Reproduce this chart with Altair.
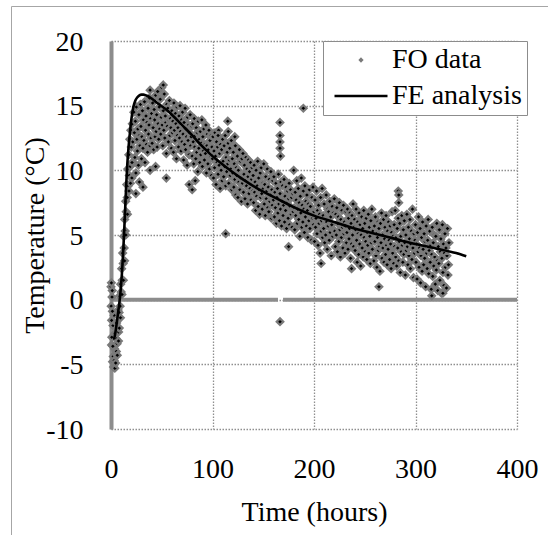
import altair as alt
import pandas as pd
import numpy as np

FONT = "'Liberation Serif', 'Times New Roman', 'DejaVu Serif', serif"
FS = 28
FO_NAME = "FO data"
FE_NAME = "FE analysis"

# FO readings, sampled every 0.5 h, split in 20-hour blocks
fo_step = 0.5
fo_T_000 = [1.0, -3.5, 0.2, -4.8, -2.0, -5.2, -1.2, -3.8, -2.6, -4.2,
            -3.0, -1.8, -3.4, -2.2, -0.8, -2.5, -1.0, 0.3, -0.5, 1.2,
            0.6, 2.4, 1.5, 3.6, 2.8, 4.9, 4.0, 6.2, 5.3, 7.6,
            6.8, 8.9, 7.9, 10.1, 8.8, 11.2, 9.6, 12.4, 10.3, 13.1]
fo_T_020 = [11.8, 9.4, 13.6, 12.2, 10.6, 14.5, 12.9, 11.0, 13.8, 9.8,
            14.9, 12.4, 11.5, 13.2, 10.4, 14.3, 12.7, 11.9, 15.1, 13.4,
            10.9, 12.6, 14.6, 11.7, 13.9, 12.3, 15.3, 10.6, 13.1, 14.2,
            12.0, 13.7, 11.4, 14.8, 12.8, 13.5, 15.6, 11.9, 14.0, 12.5]
fo_T_040 = [14.4, 12.1, 15.2, 13.3, 11.6, 14.7, 13.9, 12.6, 15.8, 13.0,
            14.3, 11.8, 16.1, 13.6, 12.4, 14.9, 13.2, 15.5, 12.8, 14.1,
            16.4, 13.5, 11.9, 14.6, 13.1, 15.9, 12.5, 14.2, 13.7, 11.3,
            15.1, 13.4, 14.8, 12.2, 13.9, 15.4, 12.7, 14.0, 13.3, 11.7]
fo_T_060 = [14.6, 12.9, 13.8, 11.4, 15.2, 13.1, 12.3, 14.4, 13.6, 10.9,
            14.9, 12.7, 13.3, 11.8, 14.2, 12.5, 15.0, 13.0, 11.5, 13.9,
            12.2, 14.5, 12.8, 10.8, 13.7, 12.0, 14.8, 11.6, 13.2, 12.6,
            10.4, 14.1, 12.3, 13.5, 11.2, 12.9, 14.3, 11.9, 12.6, 13.4]
fo_T_080 = [11.1, 13.6, 12.2, 10.5, 14.0, 11.8, 12.7, 10.9, 13.3, 11.4,
            12.9, 9.9, 13.8, 11.7, 12.4, 10.6, 13.0, 11.2, 12.1, 13.9,
            10.3, 12.6, 11.5, 13.2, 10.8, 12.0, 11.3, 13.5, 9.8, 11.9,
            12.8, 10.5, 11.6, 13.1, 10.1, 12.3, 11.0, 12.7, 9.6, 11.8]
fo_T_100 = [10.9, 12.6, 9.4, 11.5, 10.2, 12.9, 11.1, 8.9, 12.2, 10.6,
            11.8, 9.7, 13.1, 10.4, 11.3, 8.6, 12.0, 10.0, 11.6, 9.2,
            12.4, 10.7, 9.5, 11.9, 10.3, 12.7, 8.8, 11.0, 9.9, 11.4,
            10.5, 12.1, 9.0, 10.8, 11.7, 9.6, 10.1, 12.3, 8.5, 10.9]
fo_T_120 = [9.8, 11.4, 8.7, 10.5, 9.3, 11.9, 8.1, 10.2, 9.6, 11.1,
            7.9, 10.0, 9.1, 11.6, 8.5, 10.7, 9.4, 7.6, 10.9, 9.0,
            11.3, 8.3, 9.7, 10.4, 7.8, 9.2, 11.0, 8.8, 10.1, 7.4,
            9.5, 10.8, 8.2, 9.9, 8.6, 10.6, 7.7, 9.3, 10.2, 8.4]
fo_T_140 = [9.6, 7.5, 10.4, 8.3, 9.1, 6.9, 10.0, 8.0, 8.8, 10.7,
            7.2, 9.4, 8.5, 6.6, 9.8, 7.9, 10.2, 8.2, 7.0, 9.0,
            8.6, 10.5, 7.4, 8.9, 6.5, 9.5, 7.8, 8.4, 10.1, 7.1,
            8.7, 6.8, 9.3, 7.6, 8.1, 9.9, 6.3, 8.5, 7.3, 9.2]
fo_T_160 = [7.7, 9.5, 6.4, 8.3, 7.1, 9.0, 5.9, 7.9, 8.6, 6.7,
            9.7, 7.4, 6.1, 8.2, 7.0, 9.1, 5.7, 7.6, 8.8, 6.5,
            7.3, 9.3, 6.0, 8.0, 6.9, 8.7, 5.5, 7.5, 8.4, 6.3,
            7.8, 9.0, 5.8, 7.2, 8.5, 6.6, 7.9, 5.6, 8.2, 6.8]
fo_T_180 = [10.0, 7.1, 5.4, 8.3, 6.5, 7.7, 9.2, 5.9, 7.0, 8.6,
            6.2, 7.5, 4.9, 8.0, 6.7, 9.4, 5.6, 7.3, 6.0, 8.4,
            7.0, 5.2, 8.8, 6.4, 7.6, 5.7, 8.1, 6.9, 4.8, 7.4,
            6.1, 8.5, 5.5, 7.2, 6.6, 4.6, 7.9, 6.3, 8.7, 5.8]
fo_T_200 = [6.8, 4.5, 7.7, 5.6, 6.3, 8.4, 5.1, 6.9, 4.2, 7.3,
            5.9, 6.6, 3.6, 7.9, 5.3, 6.1, 8.6, 4.8, 6.5, 5.5,
            7.4, 4.4, 6.2, 5.0, 8.1, 6.0, 3.9, 7.0, 5.7, 6.8,
            4.6, 7.6, 5.2, 6.4, 3.4, 5.8, 7.2, 4.9, 6.7, 5.4]
fo_T_220 = [7.8, 5.3, 4.1, 6.6, 5.0, 7.1, 3.7, 5.9, 6.4, 4.5,
            7.5, 5.4, 3.3, 6.2, 4.8, 6.9, 5.6, 4.0, 7.3, 5.1,
            6.0, 3.6, 5.7, 6.8, 4.4, 5.2, 7.0, 3.9, 6.3, 4.7,
            5.5, 6.7, 3.2, 5.9, 4.3, 6.5, 5.0, 7.4, 4.1, 5.6]
fo_T_240 = [6.2, 3.8, 5.4, 7.0, 4.6, 2.9, 6.0, 5.1, 3.5, 6.7,
            4.3, 5.8, 2.6, 5.0, 6.4, 4.0, 5.5, 3.3, 6.9, 4.8,
            5.9, 3.7, 4.5, 6.3, 3.1, 5.2, 4.2, 6.6, 3.6, 5.6,
            4.9, 2.8, 6.1, 4.4, 7.0, 3.9, 5.3, 4.6, 3.0, 5.7]
fo_T_260 = [4.5, 6.4, 3.4, 5.1, 2.5, 4.8, 6.0, 3.8, 5.5, 4.1,
            2.2, 5.9, 4.4, 6.7, 3.2, 5.0, 4.0, 6.2, 2.9, 4.7,
            5.6, 3.5, 6.5, 4.2, 2.7, 5.3, 3.9, 6.0, 4.6, 3.1,
            5.7, 4.3, 2.4, 5.2, 6.8, 3.6, 4.9, 2.8, 5.8, 4.1]
fo_T_280 = [6.9, 3.3, 4.8, 2.6, 5.5, 4.0, 6.3, 3.0, 4.5, 5.9,
            2.1, 4.9, 3.7, 6.5, 4.2, 2.9, 5.4, 3.5, 6.1, 4.4,
            1.9, 5.0, 3.8, 6.6, 4.1, 2.7, 5.6, 3.4, 4.7, 6.2,
            2.4, 4.3, 5.3, 3.1, 7.0, 4.0, 1.7, 5.1, 3.6, 4.6]
fo_T_300 = [5.8, 2.9, 4.3, 1.6, 5.2, 3.7, 6.4, 2.5, 4.0, 5.5,
            1.3, 3.4, 4.8, 2.2, 6.0, 3.9, 2.7, 5.1, 3.2, 4.5,
            1.0, 5.7, 3.6, 2.4, 4.6, 6.2, 2.0, 3.8, 5.3, 2.9,
            4.2, 0.8, 3.5, 5.6, 1.8, 4.4, 2.6, 5.0, 3.3, 1.2]
fo_T_320 = [4.9, 2.3, 5.9, 3.0, 0.7, 4.1, 2.8, 5.4, 1.5, 3.7,
            4.7, 0.5, 3.2, 5.8, 2.1, 4.3, 1.1, 3.6, 5.1, 2.5,
            4.0, 0.9, 3.4, 5.5, 1.9, 2.7, 4.4]

# additional FO readings (start-up column, spread and outliers)
fo_extra_t = [0.2, 0.4, 0.6, 0.8, 1.2, 1.4, 1.8, 2.2, 3.2, 3.8, 4.6, 5.3, 6.2, 7.4,
              8.2, 9.3, 10.8, 12.2, 13.4, 14.6, 16.2, 17.7, 19.2, 20.7, 24.5, 28.0,
              31.5, 38.5, 44.0, 38.5, 51.5, 54.5, 77.0, 80.0, 83.0, 105.5, 113.0,
              115.0, 115.5, 122.0, 166.5, 166.5, 166.5, 166.5, 167.0, 166.5, 175.0,
              189.5, 207.0, 237.0, 264.0, 283.0, 283.5, 283.5, 316.0, 327.0]
fo_extra_T = [-0.5, 1.3, -1.6, -2.9, 0.7, -0.9, -3.6, -4.4, -4.7, -5.3, -4.9, -4.0, -4.3, -3.2,
              -2.2, -1.4, 0.4, 1.5, 3.0, 5.0, 6.6, 8.4, 9.0, 10.6, 8.2, 9.1,
              8.7, 10.0, 10.3, 16.2, 16.6, 9.4, 8.9, 8.5, 9.2, 12.7, 5.1,
              13.8, 13.0, 12.6, 13.7, 12.7, 12.2, 11.7, 11.1, -1.7, 4.1,
              14.8, 2.8, 2.4, 1.0, 8.4, 8.1, 7.5, 0.3, 0.5]

# FE analysis curve
fe_t = [2, 3, 4, 5, 6, 7, 8, 9, 10, 11, 12, 13, 14, 15, 16, 17, 18, 19, 20,
        22, 24, 26, 28, 30, 32, 34, 36, 40, 45, 50, 55, 60,
        70, 80, 90, 100, 110, 120, 130, 140, 150, 160, 170, 180, 190, 200,
        220, 240, 260, 280, 300, 320, 340, 350]
fe_T = [-3.0, -3.0, -2.7, -2.2, -1.6, -1.0, -0.4, 0.3, 1.2, 2.3, 3.7, 5.3, 7.1, 8.9, 10.4, 11.5, 12.4, 13.2, 13.9,
        14.9, 15.4, 15.65, 15.8, 15.85, 15.85, 15.8, 15.75, 15.55, 15.25, 14.95, 14.67, 14.3,
        13.5, 12.7, 11.85, 11.1, 10.45, 9.85, 9.3, 8.8, 8.35, 7.95, 7.55, 7.15, 6.8, 6.5,
        6.0, 5.5, 5.1, 4.7, 4.3, 3.95, 3.6, 3.35]

x_ticks = [0, 100, 200, 300, 400]
y_ticks = [-10, -5, 0, 5, 10, 15, 20]
zero_from = [0, 169.5]
zero_to = [164.5, 400]

blocks = [fo_T_000, fo_T_020, fo_T_040, fo_T_060, fo_T_080, fo_T_100, fo_T_120,
          fo_T_140, fo_T_160, fo_T_180, fo_T_200, fo_T_220, fo_T_240, fo_T_260,
          fo_T_280, fo_T_300, fo_T_320]
fo_T = [v for b in blocks for v in b]
fo_t = list(np.arange(len(fo_T)) * fo_step)

fo_df = pd.DataFrame({"t": fo_t + fo_extra_t, "T": fo_T + fo_extra_T})
fo_df["series"] = FO_NAME
fe_df = pd.DataFrame({"t": fe_t, "T": fe_T})
zero_df = pd.DataFrame({"t": zero_from, "t2": zero_to})

GRID = "#8f8f8f"
AXIS_GREY = "#8c8c8c"

x_scale = alt.Scale(domain=[0, 400], nice=False, zero=False)
y_scale = alt.Scale(domain=[-10, 20], nice=False, zero=False)

x_axis = alt.Axis(values=x_ticks, title="Time (hours)", grid=True, gridColor=GRID,
                  gridDash=[1.5, 1.5], gridWidth=1.3, domain=False, ticks=False,
                  labelFont=FONT, labelFontSize=FS, labelColor="black",
                  labelBaseline="alphabetic", labelPadding=48, labelFlush=False,
                  labelExpr="'' + datum.value",
                  titleFont=FONT, titleFontSize=FS, titleFontWeight="normal",
                  titleColor="black", titleBaseline="alphabetic", titleX=203, titleY=91)
y_axis = alt.Axis(values=y_ticks, title="Temperature (°C)", grid=True, gridColor=GRID,
                  gridDash=[1.5, 1.5], gridWidth=1.3, domain=True, domainColor=AXIS_GREY,
                  domainWidth=4, ticks=False,
                  labelFont=FONT, labelFontSize=FS, labelColor="black",
                  labelBaseline="alphabetic", labelOffset=9, labelPadding=28,
                  labelFlush=False, labelExpr="'' + datum.value",
                  titleFont=FONT, titleFontSize=FS, titleFontWeight="normal",
                  titleColor="black", titleBaseline="alphabetic", titleAngle=270,
                  titleX=-68, titleY=194)

X = alt.X("t:Q", scale=x_scale, axis=x_axis)
Y = alt.Y("T:Q", scale=y_scale, axis=y_axis)

DOT = "M0,-0.1L0.1,0L0,0.1L-0.1,0Z"
DASH = "M-3,0L3,0"
names = [FO_NAME, FE_NAME]

legend = alt.Legend(title=None, orient="none", legendX=212, legendY=0, padding=5,
                    fillColor="white", strokeColor="#8c8c8c",
                    symbolSize=312, symbolStrokeWidth=2.5, symbolOffset=19,
                    labelOffset=17, labelFont=FONT, labelFontSize=FS,
                    labelColor="black", rowPadding=8)

frame = alt.Chart(pd.DataFrame({"a": [0]})).mark_rect(
    fillOpacity=0, stroke="#a6a6a6", strokeWidth=1
).encode(x=alt.value(-99.5), y=alt.value(-34.5), x2=alt.value(700), y2=alt.value(700))

zero = alt.Chart(zero_df).mark_rule(color=AXIS_GREY, strokeWidth=4).encode(
    x=X, x2="t2:Q", y=alt.datum(0, scale=y_scale)
)

points = alt.Chart(fo_df).mark_point(
    filled=True, fill="black", size=4356, strokeWidth=2.2, opacity=1
).encode(
    x=X, y=Y,
    shape=alt.Shape("series:N", scale=alt.Scale(domain=names, range=[DOT, DASH]), legend=legend),
    stroke=alt.Stroke("series:N", scale=alt.Scale(domain=names, range=["#7a7a7a", "black"]), legend=legend),
)

line = alt.Chart(fe_df).mark_line(color="black", strokeWidth=2.6, interpolate="monotone").encode(
    x=X, y=Y
)

chart = alt.layer(frame, zero, points, line).properties(
    width=406, height=388,
    autosize=alt.AutoSizeParams(type="none"),
    padding={"left": 111, "top": 41, "right": 31, "bottom": 106},
    background="white",
).configure_view(strokeWidth=0)

chart.save("out.html", embed_options={"renderer": "svg", "actions": False})
